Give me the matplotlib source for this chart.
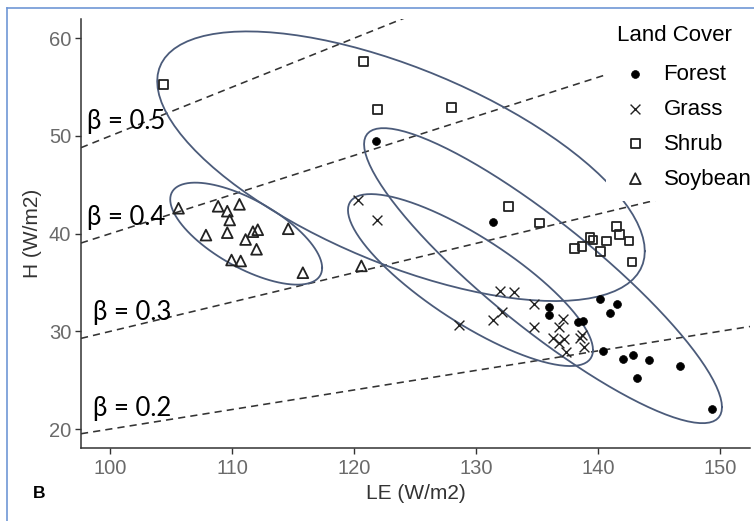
import numpy as np
import matplotlib
matplotlib.use("Agg")
import matplotlib.pyplot as plt
from matplotlib.lines import Line2D

plt.rcParams['font.family'] = ['Liberation Sans', 'DejaVu Sans']

# Datos (LE, H) por cobertura
forest_le = [121.8, 131.4, 136.0, 136.0, 138.4, 138.8, 140.2, 141.6, 141.0, 140.45,
             142.1, 142.85, 143.2, 144.2, 146.7, 149.4]
forest_h = [49.5, 41.15, 32.5, 31.7, 31.0, 31.1, 33.3, 32.8, 31.9, 28.0,
            27.2, 27.6, 25.2, 27.1, 26.5, 22.05]

grass_le = [120.35, 121.85, 128.6, 131.4, 132.1, 132.0, 133.1, 134.75, 134.8, 137.1,
            136.8, 136.3, 137.2, 136.8, 138.5, 138.9, 138.7, 137.4]
grass_h = [43.4, 41.4, 30.7, 31.2, 32.0, 34.1, 34.0, 32.8, 30.4, 31.3,
           30.4, 29.3, 29.2, 28.8, 29.3, 28.4, 29.6, 27.9]

shrub_le = [104.35, 120.75, 121.9, 128.0, 132.7, 135.2, 138.1, 138.7, 139.35, 139.6,
            140.2, 140.7, 141.5, 141.8, 142.55, 142.8]
shrub_h = [55.3, 57.6, 52.7, 52.9, 42.8, 41.1, 38.5, 38.7, 39.6, 39.35,
           38.15, 39.25, 40.7, 39.9, 39.25, 37.1]

soy_le = [105.6, 108.85, 109.6, 110.6, 109.8, 107.85, 109.6, 111.1, 111.7, 112.1,
          112.0, 109.95, 110.7, 114.6, 115.8, 120.6]
soy_h = [42.6, 42.8, 42.3, 43.0, 41.4, 39.85, 40.1, 39.4, 40.2, 40.4,
         38.4, 37.3, 37.2, 40.5, 36.0, 36.7]

# Elipses: centro, semiancho en LE, semialto en H,
# y desplazamiento en H del punto mas a la derecha (Forest, Grass, Shrub, Soybean)
ell_cx = [135.5, 129.55, 123.85, 111.15]
ell_cy = [35.7, 35.25, 46.9, 40.0]
ell_hw = [14.68, 10.05, 20.0, 6.23]
ell_hh = [15.1, 8.8, 13.8, 5.22]
ell_dy = [-13.46, -7.16, -8.7, -3.5]

betas = [0.2, 0.3, 0.4, 0.5]
beta_labels = ['β = 0.2', 'β = 0.3', 'β = 0.4', 'β = 0.5']


def elipse(cx, cy, hw, hh, dy, segments=100):
    shape = np.array([[hw ** 2, dy * hw], [dy * hw, hh ** 2]])
    L = np.linalg.cholesky(shape)
    ang = np.linspace(0, 2 * np.pi, segments + 1)
    circ = np.column_stack([np.cos(ang), np.sin(ang)])
    pts = np.array([cx, cy]) + circ @ L.T
    return pts[:, 0], pts[:, 1]


fig = plt.figure(figsize=(7.54, 5.21), dpi=100)
ax = fig.add_axes([81 / 754, 1 - 448 / 521, 669 / 754, 429 / 521])
ax.set_xlim(97.6, 152.48)
ax.set_ylim(18.06, 61.97)

# Lineas de Bowen
xs = np.array(ax.get_xlim())
label_x = [98.6, 98.6, 98.1, 98.1]
for b, lab, lx in zip(betas, beta_labels, label_x):
    ax.plot(xs, b * xs, color='#333333', lw=1.15, dashes=(4.5, 3.2), zorder=1)
    ax.text(lx, b * lx + 2.4, lab, fontsize=18.5, family='Lato', va='center', ha='left', color='black')

grupos = [
    (forest_le, forest_h, 'Forest', dict(marker='o', s=32, facecolors='black', edgecolors='black', linewidths=0.5)),
    (grass_le, grass_h, 'Grass', dict(marker='x', s=50, c='#222222', linewidths=1.0)),
    (shrub_le, shrub_h, 'Shrub', dict(marker='s', s=40, facecolors='none', edgecolors='#222222', linewidths=1.3)),
    (soy_le, soy_h, 'Soybean', dict(marker='^', s=60, facecolors='none', edgecolors='#222222', linewidths=1.3)),
]

for (x, y, nombre, estilo), cx, cy, hw, hh, dy in zip(grupos, ell_cx, ell_cy, ell_hw, ell_hh, ell_dy):
    ex, ey = elipse(cx, cy, hw, hh, dy)
    ax.plot(ex, ey, color='#4b5b7a', lw=1.3, zorder=2)
    ax.scatter(x, y, label=nombre, zorder=3, **estilo)

for s in ['top', 'right']:
    ax.spines[s].set_visible(False)
for s in ['left', 'bottom']:
    ax.spines[s].set_color('#333333')
    ax.spines[s].set_linewidth(1.1)

ax.set_xticks([100, 110, 120, 130, 140, 150])
ax.set_yticks([20, 30, 40, 50, 60])
ax.tick_params(axis='both', labelsize=14.5, labelcolor='#6a6a6a', color='#333333', length=4, width=1.0)
ax.tick_params(axis='x', pad=4)
ax.tick_params(axis='y', pad=3)
ax.set_xlabel('LE (W/m2)', fontsize=15, color='#333333', labelpad=4)
ax.set_ylabel('H (W/m2)', fontsize=15, color='#333333', labelpad=5)

leg = ax.legend(title='Land Cover', loc='upper left', bbox_to_anchor=(606 / 754, 1 - 14 / 521),
                bbox_transform=fig.transFigure, frameon=True, framealpha=1, facecolor='white',
                edgecolor='none', fancybox=False, fontsize=16, title_fontsize=16,
                alignment='left', handlelength=1.64, handletextpad=0.45, labelspacing=0.62,
                borderpad=0.5, borderaxespad=0)
leg._legend_box.sep = 13
leg.set_zorder(10)

# Marco azul y letra del panel
fig.add_artist(Line2D([7 / 754, 1], [1 - 8 / 521, 1 - 8 / 521], color='#6f97d6', lw=1.2))
fig.add_artist(Line2D([7 / 754, 7 / 754], [0, 1 - 8 / 521], color='#6f97d6', lw=1.2))
fig.text(33 / 754, 1 - 494 / 521, 'B', fontsize=12.5, fontweight='bold', va='center', ha='left')

fig.savefig('out.png', dpi=100)
